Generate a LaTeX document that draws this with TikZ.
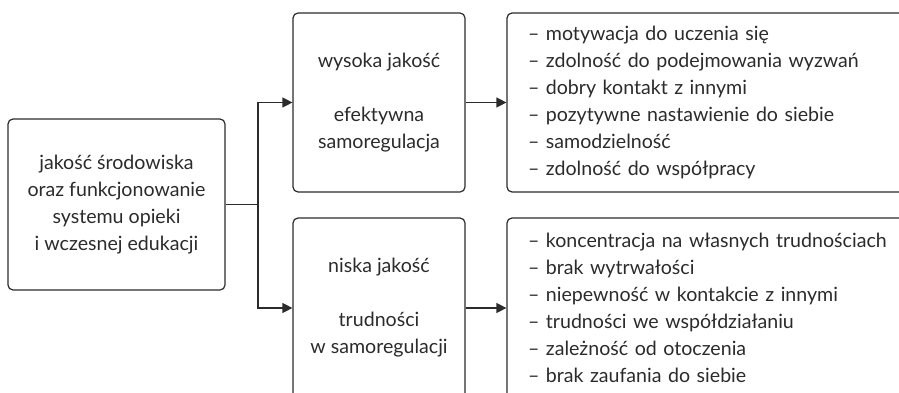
\documentclass[tikz,border=0pt]{standalone}
\usepackage{fontspec}
\setmainfont{Lato}
\usetikzlibrary{arrows.meta}
\definecolor{ink}{HTML}{2B2B2B}
\tikzset{
  card/.style={draw=ink, line width=1.2pt, rounded corners=5pt, text=ink,
    font=\fontsize{19.6}{27}\selectfont, inner sep=0pt},
  centred/.style={card, align=center},
  listbox/.style={card, align=left, inner xsep=21pt},
  link/.style={draw=ink, line width=1.2pt},
  arr/.style={link, -{Triangle[length=10pt,width=10pt]}}
}
\begin{document}
\begin{tikzpicture}[x=1pt, y=-1pt]
\useasboundingbox (0,0) rectangle (899,393);
\clip (0,0) rectangle (899,393);

% source box
\node[centred, minimum width=217pt, minimum height=171pt] (src) at (116.5,204.5)
  {jakość środowiska\\oraz funkcjonowanie\\systemu opieki\\i wczesnej edukacji};

% middle column
\node[centred, minimum width=172pt, minimum height=179pt] (hi) at (379,102.5)
  {wysoka jakość\\[27pt]efektywna\\samoregulacja};
\node[centred, minimum width=172pt, minimum height=180pt] (lo) at (379,308)
  {niska jakość\\[27pt]trudności\\w samoregulacji};

% outcome lists (boxes run past the right and bottom edges)
\node[listbox, text width=380pt, minimum height=179pt] (hiout) at (718,102.5)
  {– motywacja do uczenia się\\
   – zdolność do podejmowania wyzwań\\
   – dobry kontakt z innymi\\
   – pozytywne nastawienie do siebie\\
   – samodzielność\\
   – zdolność do współpracy};
\node[listbox, text width=380pt, minimum height=180pt] (loout) at (718,308)
  {– koncentracja na własnych trudnościach\\
   – brak wytrwałości\\
   – niepewność w kontakcie z innymi\\
   – trudności we współdziałaniu\\
   – zależność od otoczenia\\
   – brak zaufania do siebie};

% connectors
\coordinate (split) at (258,204.5);
\draw[link] (src.east) -- (split);
\draw[arr] (split) |- (hi.west);
\draw[arr] (split) |- (lo.west);
\draw[arr] (hi.east) -- (hiout.west);
\draw[arr] (lo.east) -- (loout.west);
\end{tikzpicture}
\end{document}
